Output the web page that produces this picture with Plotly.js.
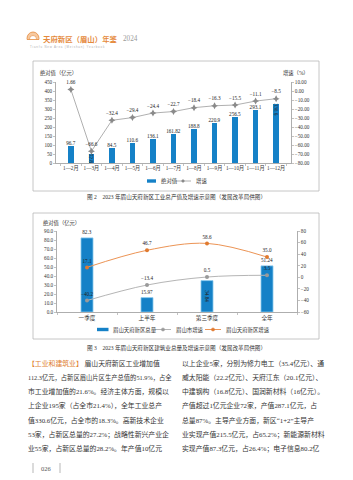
<!DOCTYPE html>
<html><head><meta charset="utf-8">
<script src="https://cdn.plot.ly/plotly-3.0.1.min.js"></script>
<style>html,body{margin:0;padding:0;background:#fff;}#chart{width:353px;height:480px;}</style>
</head><body><div id="chart"></div>
<script>
// ---- Chart 1 data (图2) ----
const months = ['1—2月','1—3月','1—4月','1—5月','1—6月','1—7月','1—8月','1—9月','1—10月','1—11月','1—12月'];
const industryValue = [96.7, 52.8, 84.5, 110.6, 136.1, 161.82, 188.8, 220.9, 256.5, 293.1, 330.6];
const industryGrowth = [1.66, -66.6, -32.4, -29.4, -24.4, -22.7, -18.4, -16.3, -15.5, -11.1, -8.5];
const industryValueLabels = ['96.7','52.8','84.5','110.6','136.1','161.82','188.8','220.9','256.5','293.1','330.6'];
const industryGrowthLabels = ['1.66','−66.6','−32.4','−29.4','−24.4','−22.7','−18.4','−16.3','−15.5','−11.1','−8.5'];

// ---- Chart 2 data (图3) ----
const periods = ['一季度','上半年','第三季度','全年'];
const constructionValue = [82.3, 15.97, 34.84, 51.24];
const cityGrowth = [-40.2, -13.4, 0.5, 3.5];
const areaGrowth = [17.1, 46.7, 58.6, 35.0];
const constructionValueLabels = ['82.3','15.97','34.84','51.24'];
const cityGrowthLabels = ['−40.2','−13.4','0.5','3.5'];
const areaGrowthLabels = ['17.1','46.7','58.6','35.0'];

// ---- Legend names ----
const legend1Names = ['绝对值','增速'];
const legend2Names = ['眉山天府新区总量','眉山市增速','眉山天府新区增速'];

// ---- Body text ----
const leftLines = [
 '<span style="color:#e0802f">【工业和建筑业】</span> 眉山天府新区工业增加值',
 '112.3亿元，占新区眉山片区生产总值的51.9%，占全',
 '市工业增加值的21.6%。经济主体方面，规模以',
 '上企业195家（占全市21.4%），全年工业总产',
 '值330.6亿元，占全市的18.3%。高新技术企业',
 '53家，占新区总量的27.2%；战略性新兴产业企',
 '业55家，占新区总量的28.2%。年产值10亿元'
];
const rightLines = [
 '以上企业5家，分别为修力电工（35.4亿元）、通',
 '威太阳能（22.2亿元）、天府江东（20.1亿元）、',
 '中建钢构（16.8亿元）、国润新材料（16亿元）。',
 '产值超过1亿元企业72家，产值287.1亿元，占',
 '总量87%。主导产业方面，新区“1+2”主导产',
 '业实现产值215.5亿元，占65.2%；新能源新材料',
 '实现产值87.3亿元，占26.4%；电子信息80.2亿'
];

const W = 353, H = 480;
const fx = x => x / W, fy = y => 1 - y / H;
const FONT = 'Liberation Serif, Noto Sans CJK SC, serif';
const BLUE = '#1581c7';
const AX = '#9a9a9a';

const traces = [
 {type:'bar', x:months, y:industryValue, name:legend1Names[0], xaxis:'x', yaxis:'y', width:0.28,
  marker:{color:BLUE}, text:industryValueLabels,
  textposition:['outside','inside','outside','outside','outside','outside','outside','outside','outside','outside','inside'],
  insidetextanchor:'end', constraintext:'none', cliponaxis:false,
  textfont:{size:5.2, color:'#222', family:FONT}, hoverinfo:'skip'},
 {type:'scatter', mode:'lines+markers+text', x:months, y:industryGrowth, name:legend1Names[1], xaxis:'x', yaxis:'y2',
  line:{color:'#9c9c9c', width:0.8}, marker:{symbol:'star-diamond', size:5, color:'#8a8a8a'},
  text:industryGrowthLabels, textposition:'top center', cliponaxis:false,
  textfont:{size:5.2, color:'#222', family:FONT}, hoverinfo:'skip'},
 {type:'bar', x:periods, y:constructionValue, name:legend2Names[0], xaxis:'x2', yaxis:'y3', width:0.2,
  marker:{color:BLUE, line:{color:'#86c8ee', width:0.8}}, text:constructionValueLabels,
  textposition:['outside','outside','inside','outside'], insidetextanchor:'middle', constraintext:'none',
  cliponaxis:false, textfont:{size:5.2, color:'#222', family:FONT}, hoverinfo:'skip'},
 {type:'scatter', mode:'lines+markers+text', x:periods, y:cityGrowth, name:legend2Names[1], xaxis:'x2', yaxis:'y4',
  line:{color:'#b5b5b5', width:1, shape:'spline'}, marker:{symbol:'circle', size:4, color:'#9a9a9a'},
  text:cityGrowthLabels, textposition:'top center', cliponaxis:false,
  textfont:{size:5.2, color:'#222', family:FONT}, hoverinfo:'skip'},
 {type:'scatter', mode:'lines+markers+text', x:periods, y:areaGrowth, name:legend2Names[2], xaxis:'x2', yaxis:'y4',
  line:{color:'#ec9455', width:1, shape:'spline'}, marker:{symbol:'circle', size:4, color:'#e07a30'},
  text:areaGrowthLabels, textposition:'top center', cliponaxis:false,
  textfont:{size:5.2, color:'#222', family:FONT}, hoverinfo:'skip'}
];

const axBase = {showline:true, linecolor:AX, linewidth:0.8, ticks:'outside', ticklen:2, tickcolor:AX, tickwidth:0.6,
  showgrid:false, zeroline:false, fixedrange:true, tickfont:{size:5.2, color:'#333', family:FONT}};

const annotations = [];
const ann = (text, x, y, opts={}) => annotations.push(Object.assign({text, x:fx(x), y:fy(y), xref:'paper', yref:'paper',
  showarrow:false, xanchor:'left', yanchor:'middle', font:{size:6, color:'#333', family:FONT}}, opts));

// header
ann('<b>天府新区（眉山）年鉴</b>', 41, 38.5, {font:{size:7.4, color:'#e58a3c', family:'Noto Sans CJK SC'}});
ann('2024', 121, 38.8, {font:{size:7.2, color:'#9a9a9a', family:'Liberation Serif'}});
ann('T i a n f u   N e w   A r e a   ( M e i s h a n )   Y e a r b o o k', 28, 46.5, {font:{size:2.9, color:'#b0b0b0', family:'Liberation Sans'}});
// chart 1 titles
ann('绝对值（亿元）', 38, 73, {font:{size:5.3, color:'#333', family:FONT}});
ann('增速（%）', 281, 73, {font:{size:5.3, color:'#333', family:FONT}});
ann('图 2　2023 年眉山天府新区工业总产值及增速示意图（发展改革局供图）', 176, 197.5, {xanchor:'center', font:{size:5.6, color:'#333', family:FONT}});
// chart 2 titles
ann('绝对值（亿元）', 41, 223, {font:{size:5.3, color:'#333', family:FONT}});
ann('图 3　2023 年眉山天府新区建筑业总量及增速示意图（发展改革局供图）', 176, 348, {xanchor:'center', font:{size:5.6, color:'#333', family:FONT}});
// legends (drawn manually)
const LF = {size:5.4, color:'#333', family:FONT};
ann(legend1Names[0], 158.5, 181, {font:LF});
ann(legend1Names[1], 194, 181, {font:LF});
ann(legend2Names[0], 111, 329.5, {font:LF});
ann(legend2Names[1], 174, 329.5, {font:LF});
ann(legend2Names[2], 224, 329.5, {font:LF});
// body text
const lineY = [363, 377.3, 391.6, 405.9, 420.2, 434.5, 448.8];
const leftSizes = [6.85, 6.3, 6.85, 6.85, 6.85, 6.85, 6.85];
leftLines.forEach((t,i) => ann(t, 26, lineY[i], {font:{size:leftSizes[i], color:'#333', family:FONT}}));
rightLines.forEach((t,i) => ann(t, 180, lineY[i], {font:{size:6.85, color:'#333', family:FONT}}));
// page number
ann('026', 46.5, 468, {xanchor:'center', font:{size:6.5, color:'#555', family:FONT}});

const P = {xref:'paper', yref:'paper'};
const rectPaper = (x0,y0,x1,y1,extra={}) => Object.assign({type:'rect', xref:'paper', yref:'paper',
  x0:fx(x0), x1:fx(x1), y0:fy(y1), y1:fy(y0), line:{color:'#b8b8b8', width:0.8}}, extra);
const hline = (x0,x1,y,color,w) => Object.assign({type:'line', x0:fx(x0), x1:fx(x1), y0:fy(y), y1:fy(y), line:{color, width:w}}, P);
const dot = (x,y,r,color) => Object.assign({type:'circle', x0:fx(x-r), x1:fx(x+r), y0:fy(y+r), y1:fy(y-r), fillcolor:color, line:{color, width:0.5}}, P);
const shapes = [
  rectPaper(33, 61, 319, 191),
  rectPaper(33, 213, 319, 339),
  // logo
  Object.assign({type:'circle', x0:fx(27), x1:fx(39), y0:fy(45), y1:fy(32), fillcolor:'#f6c9a0', line:{color:'#e58a3c', width:0.8}}, P),
  Object.assign({type:'circle', x0:fx(29.5), x1:fx(36.5), y0:fy(42.5), y1:fy(35.5), fillcolor:'#ffffff', line:{color:'#e58a3c', width:0.6}}, P),
  rectPaper(26, 39.5, 40, 46, {fillcolor:'#ffffff', line:{width:0}}),
  hline(27, 39, 39.5, '#e58a3c', 0.8),
  // legend keys chart 1
  rectPaper(147, 179.3, 156, 182.7, {fillcolor:BLUE, line:{width:0}}),
  hline(175, 191, 181, '#9c9c9c', 0.8),
  dot(183, 181, 1.3, '#8a8a8a'),
  // legend keys chart 2
  rectPaper(97, 327.8, 108.5, 331.2, {fillcolor:BLUE, line:{width:0}}),
  hline(155, 171, 329.5, '#b5b5b5', 1),
  dot(163, 329.5, 1.6, '#9a9a9a'),
  hline(205, 221, 329.5, '#ec9455', 1),
  dot(213, 329.5, 1.6, '#e07a30'),
  // page number bars
  Object.assign({type:'line', x0:fx(33), x1:fx(33), y0:fy(463), y1:fy(473), line:{color:'#888', width:0.6}}, P),
  Object.assign({type:'line', x0:fx(60), x1:fx(60), y0:fy(463), y1:fy(473), line:{color:'#888', width:0.6}}, P)
];

const layout = {
  width:W, height:H, margin:{l:0, r:0, t:0, b:0}, paper_bgcolor:'#ffffff', plot_bgcolor:'rgba(0,0,0,0)',
  font:{family:FONT, size:6, color:'#333'}, showlegend:false, bargap:0,
  xaxis:Object.assign({}, axBase, {domain:[fx(56), fx(291)], anchor:'y', type:'category', tickson:'boundaries',
    tickangle:0, tickfont:{size:5.2, color:'#333', family:FONT}}),
  yaxis:Object.assign({}, axBase, {domain:[fy(163.3), fy(82)], anchor:'x', range:[0,450], tick0:0, dtick:50}),
  yaxis2:Object.assign({}, axBase, {overlaying:'y', side:'right', anchor:'x', range:[-80,10], tick0:0, dtick:10, tickformat:'.2f'}),
  xaxis2:Object.assign({}, axBase, {domain:[fx(57), fx(297)], anchor:'y3', type:'category', tickson:'boundaries',
    tickangle:0, tickfont:{size:5.6, color:'#333', family:FONT}}),
  yaxis3:Object.assign({}, axBase, {domain:[fy(312), fy(231)], anchor:'x2', range:[0,90], tick0:0, dtick:10, tickformat:'.1f'}),
  yaxis4:Object.assign({}, axBase, {overlaying:'y3', side:'right', anchor:'x2', range:[-60,80], tick0:0, dtick:20}),
  annotations, shapes
};

Plotly.newPlot('chart', traces, layout, {staticPlot:true, displayModeBar:false});
</script></body></html>
